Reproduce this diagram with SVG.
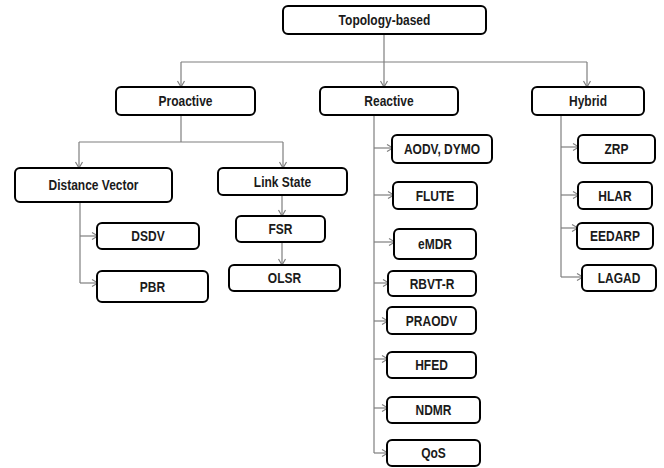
<svg xmlns="http://www.w3.org/2000/svg" width="664" height="468" viewBox="0 0 664 468">
  <style>
    .box rect { fill: #ffffff; stroke: #000000; stroke-width: 2; }
    .box text { font-family: "Liberation Sans", Arial, sans-serif; font-weight: bold; font-size: 12px; fill: #1a1a1a; text-anchor: middle;
                transform-box: fill-box; transform-origin: center; transform: scaleY(1.2); }
    .wire { fill: none; stroke: #7f7f7f; stroke-width: 1.2; }
    .arr { marker-end: url(#head); }
  </style>
  <defs>
    <marker id="head" markerUnits="userSpaceOnUse" markerWidth="10" markerHeight="10" viewBox="0 0 10 10" refX="9" refY="5" orient="auto">
      <path d="M3,1.5 L9,5 L3,8.5" fill="none" stroke="#7f7f7f" stroke-width="1.2"/>
    </marker>
  </defs>
  <rect width="664" height="468" fill="#ffffff"/>

  <!-- connectors -->
  <g id="connectors">
    <!-- root to the three families -->
    <path class="wire arr" d="M384,34 V87"/>
    <path class="wire" d="M181,62 H587"/>
    <path class="wire arr" d="M181,62 V87"/>
    <path class="wire arr" d="M587,62 V87"/>
    <!-- proactive split -->
    <path class="wire" d="M181,115 V142"/>
    <path class="wire" d="M79,142 H283"/>
    <path class="wire arr" d="M79,142 V168"/>
    <path class="wire arr" d="M283,142 V168"/>
    <!-- distance vector -->
    <path class="wire" d="M80,202 V283"/>
    <path class="wire arr" d="M80,236 H98"/>
    <path class="wire arr" d="M80,283 H98"/>
    <!-- link state chain -->
    <path class="wire arr" d="M282,195 V216"/>
    <path class="wire arr" d="M282,242 V265"/>
    <!-- reactive -->
    <path class="wire" d="M374,115 V453"/>
    <path class="wire arr" d="M374,148 H393"/>
    <path class="wire arr" d="M374,195 H394"/>
    <path class="wire arr" d="M374,242 H395"/>
    <path class="wire arr" d="M374,283 H389"/>
    <path class="wire arr" d="M374,321 H388"/>
    <path class="wire arr" d="M374,359 H388"/>
    <path class="wire arr" d="M374,408 H388"/>
    <path class="wire arr" d="M374,453 H388"/>
    <!-- hybrid -->
    <path class="wire" d="M561,115 V277"/>
    <path class="wire arr" d="M561,147 H579"/>
    <path class="wire arr" d="M561,195 H579"/>
    <path class="wire arr" d="M561,228 H578"/>
    <path class="wire arr" d="M561,277 H583"/>
  </g>

  <!-- nodes -->
  <g id="topology" class="box"><rect x="283" y="6" width="203" height="28" rx="5"/><text x="384.5" y="24.5">Topology-based</text></g>

  <g id="proactive" class="box"><rect x="116" y="87" width="139" height="28" rx="5"/><text x="185.5" y="105.5">Proactive</text></g>
  <g id="reactive" class="box"><rect x="320" y="87" width="138" height="28" rx="5"/><text x="389" y="105.5">Reactive</text></g>
  <g id="hybrid" class="box"><rect x="532" y="87" width="112" height="28" rx="5"/><text x="588" y="105.5">Hybrid</text></g>

  <g id="distance-vector" class="box"><rect x="15" y="168" width="157" height="34" rx="5"/><text x="93.5" y="189.5">Distance Vector</text></g>
  <g id="link-state" class="box"><rect x="218" y="168" width="129" height="27" rx="5"/><text x="282.5" y="186">Link State</text></g>

  <g id="dsdv" class="box"><rect x="97" y="223" width="102" height="26" rx="5"/><text x="148" y="240.5">DSDV</text></g>
  <g id="pbr" class="box"><rect x="97" y="271" width="111" height="31" rx="5"/><text x="152.5" y="291">PBR</text></g>

  <g id="fsr" class="box"><rect x="236" y="216" width="89" height="26" rx="5"/><text x="280.5" y="233.5">FSR</text></g>
  <g id="olsr" class="box"><rect x="229" y="265" width="111" height="26" rx="5"/><text x="284.5" y="282.5">OLSR</text></g>

  <g id="aodv-dymo" class="box"><rect x="392" y="135" width="100" height="28" rx="5"/><text x="442" y="153.5">AODV, DYMO</text></g>
  <g id="flute" class="box"><rect x="393" y="182" width="84" height="27" rx="5"/><text x="435" y="200">FLUTE</text></g>
  <g id="emdr" class="box"><rect x="394" y="229" width="82" height="30" rx="5"/><text x="435" y="248.5">eMDR</text></g>
  <g id="rbvt-r" class="box"><rect x="388" y="271" width="88" height="25" rx="5"/><text x="432" y="288">RBVT-R</text></g>
  <g id="praodv" class="box"><rect x="387" y="307" width="89" height="27" rx="5"/><text x="431.5" y="325">PRAODV</text></g>
  <g id="hfed" class="box"><rect x="387" y="352" width="89" height="26" rx="5"/><text x="431.5" y="369.5">HFED</text></g>
  <g id="ndmr" class="box"><rect x="387" y="397" width="93" height="26" rx="5"/><text x="433.5" y="414.5">NDMR</text></g>
  <g id="qos" class="box"><rect x="387" y="440" width="93" height="26" rx="5"/><text x="433.5" y="457.5">QoS</text></g>

  <g id="zrp" class="box"><rect x="578" y="135" width="77" height="28" rx="5"/><text x="616.5" y="153.5">ZRP</text></g>
  <g id="hlar" class="box"><rect x="578" y="182" width="74" height="27" rx="5"/><text x="615" y="200">HLAR</text></g>
  <g id="eedarp" class="box"><rect x="577" y="223" width="76" height="26" rx="5"/><text x="615" y="240.5">EEDARP</text></g>
  <g id="lagad" class="box"><rect x="582" y="265" width="74" height="26" rx="5"/><text x="619" y="282.5">LAGAD</text></g>
</svg>
